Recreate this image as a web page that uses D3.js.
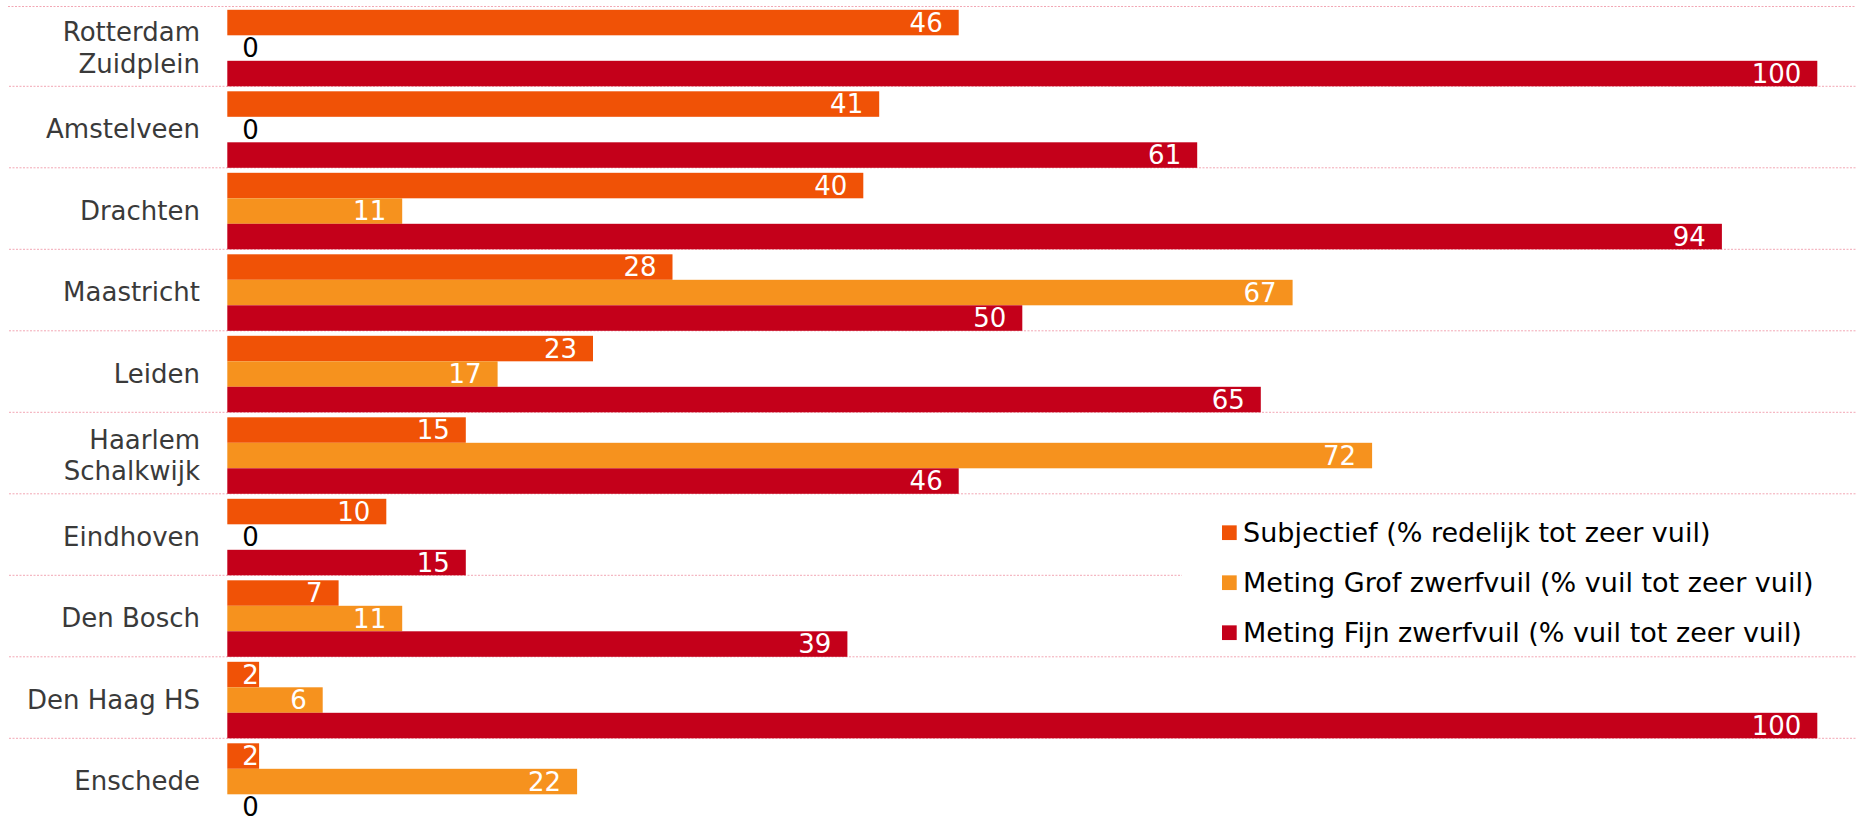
<!DOCTYPE html>
<html><head><meta charset="utf-8">
<script src="https://cdn.jsdelivr.net/npm/d3@7/dist/d3.min.js"></script>
<style>html,body{margin:0;padding:0;background:#fff;overflow:hidden}</style>
</head><body>
<svg id="chart" width="1856" height="819"></svg>
<script>
const categories = ["Rotterdam\nZuidplein","Amstelveen","Drachten","Maastricht","Leiden","Haarlem\nSchalkwijk","Eindhoven","Den Bosch","Den Haag HS","Enschede"];
const seriesNames = ["Subjectief (% redelijk tot zeer vuil)","Meting Grof zwerfvuil (% vuil tot zeer vuil)","Meting Fijn zwerfvuil (% vuil tot zeer vuil)"];
const subjectief = [46,41,40,28,23,15,10,7,2,2];
const grof = [0,0,11,67,17,72,0,11,6,22];
const fijn = [100,61,94,50,65,46,15,39,100,0];
const colors = ["#F05206","#F6921E","#C4001A"];

const W = 1856, H = 819;
const svg = d3.select("#chart");
const font = "DejaVu Sans, Verdana, sans-serif";

const bandTop = 4.8, bandH = 81.5;
const y = d3.scaleBand().domain(categories).range([bandTop, bandTop + bandH*categories.length]).padding(0);
const ySub = d3.scaleBand().domain([0,1,2]).range([5, bandH]).padding(0);
const x = d3.scaleLinear().domain([0,100]).range([227.3, 1817.3]);

// separators
const lineColor = "#F2A7B4";
svg.append("line").attr("x1",8).attr("x2",W).attr("y1",6.5).attr("y2",6.5)
  .attr("stroke",lineColor).attr("stroke-width",1).attr("stroke-dasharray","2,1.5");
categories.forEach((c,i)=>{
  if(i===0) return;
  const yy = y(c);
  svg.append("line").attr("x1",9).attr("x2",W).attr("y1",yy).attr("y2",yy)
    .attr("stroke",lineColor).attr("stroke-width",1).attr("stroke-dasharray","2,1.5");
});

const series = [subjectief, grof, fijn];
const g = svg.append("g");
series.forEach((vals,j)=>{
  categories.forEach((c,i)=>{
    const v = vals[i];
    const y0 = y(c) + ySub(j);
    const h = ySub.bandwidth();
    if(v>0){
      g.append("rect").attr("x",x(0)).attr("y",y0).attr("width",x(v)-x(0)).attr("height",h).attr("fill",colors[j]);
    }
    const t = g.append("text").text(v)
      .attr("y", y0 + h/2).attr("dy","0.36em")
      .attr("font-family",font).attr("font-size",26)
      .attr("fill", v===0 ? "#000" : "#fff");
    const w = t.node().getComputedTextLength();
    const right = Math.max(x(v) - 16, x(0) + 15 + w);
    t.attr("x", right).attr("text-anchor","end");
  });
});

// category labels
categories.forEach(c=>{
  const lines = c.split("\n");
  const cy = y(c) + bandH/2 + 2;
  const lh = 31.7;
  const t = svg.append("text").attr("font-family",font).attr("font-size",26)
    .attr("fill","#3A3A3A").attr("text-anchor","end");
  lines.forEach((ln,k)=>{
    t.append("tspan").attr("x",200).attr("y", cy + (k - (lines.length-1)/2)*lh).attr("dy","0.36em").text(ln);
  });
});

// legend
const lg = svg.append("g");
lg.append("rect").attr("x",1182).attr("y",500).attr("width",W-1182).attr("height",150).attr("fill","#fff");
seriesNames.forEach((s,j)=>{
  const cy = 532.7 + j*50;
  lg.append("rect").attr("x",1222).attr("y",cy-7.35).attr("width",14.7).attr("height",14.7).attr("fill",colors[j]);
  lg.append("text").attr("x",1243).attr("y",cy).attr("dy","0.36em").text(s)
    .attr("font-family",font).attr("font-size",27).attr("fill","#000");
});
</script>
</body></html>
